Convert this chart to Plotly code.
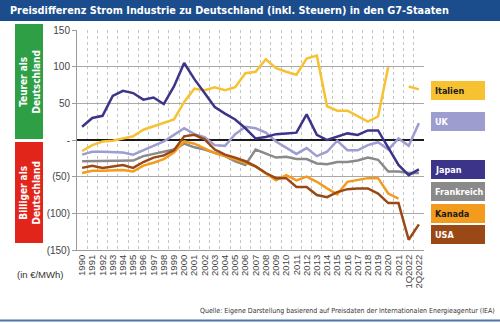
import plotly.graph_objects as go

categories = [str(y) for y in range(1990, 2022)] + ["1Q2022", "2Q2022"]

italien = [-15, -7, -2, -1, 2, 5, 14, 19, 24, 28,
           52, 70, 68, 72, 68, 72, 91, 93, 110, 98,
           93, 89, 111, 115, 46, 40, 40, 32, 25, 32,
           100, None, 73, 69]
uk = [-20, -16, -16, -17, -17, -20, -14, -7, -2, 7,
      16, 8, 4, -7, -8, 8, 18, 16, 10, -2,
      -11, -19, -11, -22, -16, -1, -14, -14, -7, -3,
      -13, 2, -8, 23]
japan = [18, 30, 33, 60, 67, 64, 55, 58, 49, 73,
         105, 83, 64, 45, 36, 28, 16, 2, 4, 8,
         9, 10, 35, 7, 0, 4, 9, 7, 13, 13,
         -11, -34, -48, -40]
frankreich = [-29, -29, -29, -29, -29, -28, -22, -19, -16, -13,
              -5, -10, -13, -17, -22, -29, -34, -13, -18, -24,
              -23, -26, -26, -32, -33, -30, -30, -28, -24, -27,
              -43, -43, -45, -45]
kanada = [-45, -42, -42, -41, -41, -43, -35, -31, -26, -17,
          -2, -5, -11, -18, -22, -26, -31, -36, -45, -55,
          -48, -55, -50, -57, -66, -74, -57, -54, -52, -52,
          -73, -80, None, None]
usa = [-38, -35, -38, -36, -34, -38, -30, -24, -21, -14,
       5, 7, 1, -13, -20, -24, -29, -36, -45, -52,
       -52, -64, -64, -75, -78, -71, -67, -66, -66, -73,
       -86, -86, -136, -115]

y_tickvals = [150, 100, 50, 0, -50, -100, -150]
y_ticktext = ["150", "100", "50", "-", "(50)", "(100)", "(150)"]

series = [
    ("Italien", italien, "#f6c232", "#1a1a1a"),
    ("UK", uk, "#9d9dd0", "white"),
    ("Japan", japan, "#3b3488", "white"),
    ("Frankreich", frankreich, "#8a8a8a", "white"),
    ("Kanada", kanada, "#f39b1c", "#1a1a1a"),
    ("USA", usa, "#9a4816", "white"),
]
draw_order = ["UK", "Frankreich", "Kanada", "USA", "Italien", "Japan"]

NARROW = "DejaVu Sans Condensed, Liberation Sans"
SANS = "Liberation Sans, Arial, sans-serif"

W, H = 500, 323
L, R, T, B = 77, 424, 30, 250

def px(x):
    return (x - L) / (R - L)

def py(y):
    return (B - y) / (B - T)

fig = go.Figure()
lookup = {s[0]: s for s in series}
for name in draw_order:
    n, vals, col, _ = lookup[name]
    fig.add_trace(go.Scatter(x=categories, y=vals, mode="lines", name=n,
                             line=dict(color=col, width=2.5),
                             connectgaps=False, showlegend=False))

shapes = []
annotations = []

shapes.append(dict(type="rect", xref="paper", yref="paper",
                   x0=px(0), x1=px(W), y0=py(0), y1=py(21),
                   fillcolor="#1b4c8b", line=dict(width=0), layer="below"))
annotations.append(dict(xref="paper", yref="paper", x=px(8), y=py(10.5),
                        xanchor="left", yanchor="middle", showarrow=False,
                        text="<b>Preisdifferenz Strom Industrie zu Deutschland (inkl. Steuern) in den G7-Staaten</b>",
                        font=dict(family=NARROW, size=10.8, color="white")))
shapes.append(dict(type="rect", xref="paper", yref="paper",
                   x0=px(0), x1=px(W), y0=py(319.5), y1=py(321.5),
                   fillcolor="#4a78ad", line=dict(width=0)))

shapes.append(dict(type="rect", xref="paper", yref="paper",
                   x0=px(15), x1=px(43), y0=py(24), y1=py(139),
                   fillcolor="#2e9f45", line=dict(width=0)))
shapes.append(dict(type="rect", xref="paper", yref="paper",
                   x0=px(15), x1=px(43), y0=py(142), y1=py(243),
                   fillcolor="#e1251b", line=dict(width=0)))
annotations.append(dict(xref="paper", yref="paper", x=px(29), y=py(81.5),
                        xanchor="center", yanchor="middle", showarrow=False, textangle=-90,
                        text="<b>Teurer als<br>Deutschland</b>",
                        font=dict(family=NARROW, size=10, color="white")))
annotations.append(dict(xref="paper", yref="paper", x=px(29), y=py(192.5),
                        xanchor="center", yanchor="middle", showarrow=False, textangle=-90,
                        text="<b>Billiger als<br>Deutschland</b>",
                        font=dict(family=NARROW, size=10, color="white")))

legend_pos = {"Italien": (81, 100), "UK": (112, 131), "Japan": (160, 179),
              "Frankreich": (182, 201), "Kanada": (204, 223), "USA": (225, 244)}
for n, vals, col, tcol in series:
    y0, y1 = legend_pos[n]
    shapes.append(dict(type="rect", xref="paper", yref="paper",
                       x0=px(431), x1=px(485), y0=py(y1), y1=py(y0),
                       fillcolor=col, line=dict(width=0)))
    annotations.append(dict(xref="paper", yref="paper", x=px(433), y=py((y0 + y1) / 2),
                            xanchor="left", yanchor="middle", showarrow=False,
                            text="<b>" + n + "</b>",
                            font=dict(family=NARROW, size=9, color=tcol)))

annotations.append(dict(xref="paper", yref="paper", x=px(15), y=py(274),
                        xanchor="left", yanchor="middle", showarrow=False,
                        text="(in €/MWh)",
                        font=dict(family=SANS, size=9.5, color="#333333")))
annotations.append(dict(xref="paper", yref="paper", x=px(497), y=py(311),
                        xanchor="right", yanchor="middle", showarrow=False,
                        text="Quelle: Eigene Darstellung basierend auf Preisdaten der Internationalen Energieagentur (IEA)",
                        font=dict(family=NARROW, size=7, color="#333333")))

fig.update_layout(
    width=W, height=H,
    margin=dict(l=L, r=W - R, t=T, b=H - B, pad=0),
    paper_bgcolor="white", plot_bgcolor="white",
    shapes=shapes, annotations=annotations,
    showlegend=False,
    xaxis=dict(type="category", categoryorder="array", categoryarray=categories,
               range=[-0.5, len(categories) - 0.5],
               tickmode="array", tickvals=categories, ticktext=categories,
               tickson="boundaries", showgrid=True, gridcolor="#c4c4c4", griddash="dot",
               gridwidth=1, ticks="", tickangle=-90,
               tickfont=dict(family=SANS, size=9.5, color="#444444"),
               showline=True, linecolor="#9a9a9a", linewidth=1, fixedrange=True),
    yaxis=dict(range=[-150, 150], tickvals=y_tickvals, ticktext=y_ticktext,
               showgrid=True, gridcolor="#a8a8a8", gridwidth=1,
               zeroline=True, zerolinecolor="#1a1a1a", zerolinewidth=1.5,
               ticks="outside", ticklen=4, tickcolor="#9a9a9a",
               showline=True, linecolor="#9a9a9a", linewidth=1,
               tickfont=dict(family=SANS, size=10, color="#444444"),
               fixedrange=True),
)

fig.write_html("out.html")
